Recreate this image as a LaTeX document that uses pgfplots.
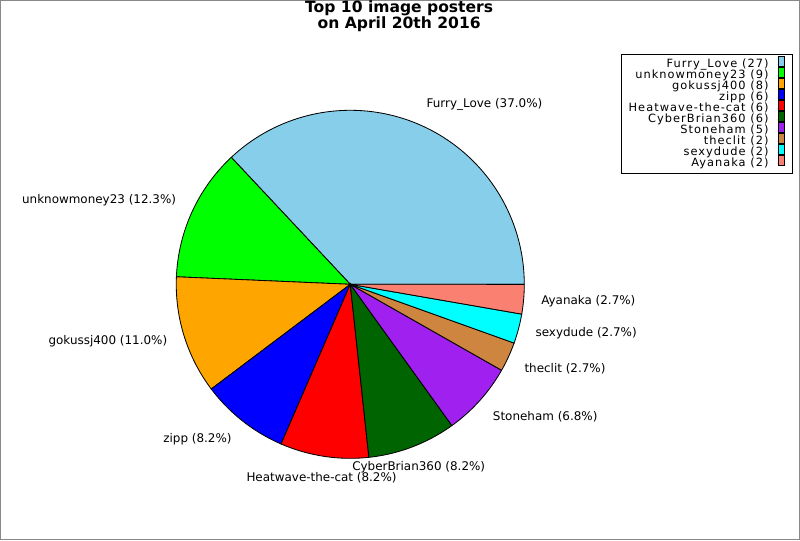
\documentclass[border=0pt]{standalone}
\usepackage{fontspec}
\setmainfont{DejaVu Sans}
\newfontfamily\legfont[LetterSpace=9]{DejaVu Sans}
\usepackage{pgfplots}
\pgfplotsset{compat=1.18}
\usepgfplotslibrary{polar}
\definecolor{cFurry}{HTML}{87CEEB}
\definecolor{cUnk}{HTML}{00FF00}
\definecolor{cGok}{HTML}{FFA500}
\definecolor{cZipp}{HTML}{0000FF}
\definecolor{cHeat}{HTML}{FF0000}
\definecolor{cCyber}{HTML}{006400}
\definecolor{cStone}{HTML}{A020F0}
\definecolor{cClit}{HTML}{CD853F}
\definecolor{cSexy}{HTML}{00FFFF}
\definecolor{cAya}{HTML}{FA8072}
\definecolor{frame}{HTML}{888888}
% total of all counts: 73
\newcommand{\slice}[4]{%
  \addplot[fill=#3, draw=black, line width=0.6pt, domain={#1*360/73}:{#2*360/73}, samples=80] {1} -- (axis cs:0,0) -- cycle;
  \addlegendentry{#4}%
}
\newcommand{\labfont}{\fontsize{8.6}{10.3}\selectfont}
\begin{document}
\begin{tikzpicture}
\useasboundingbox (0,0) rectangle (576pt,388.8pt);
\fill[white] (0,0) rectangle (576pt,388.8pt);
\draw[frame, line width=0.72pt] (0.36pt,0.36pt) rectangle (575.64pt,388.44pt);
\begin{polaraxis}[
  hide axis, scale only axis, width=250.6pt, height=250.6pt,
  xmin=0, xmax=360, ymin=0, ymax=1, clip=false,
  at={(252.2pt,184.1pt)}, anchor=center,
  legend plot pos=right, legend cell align=right,
  legend image code/.code={\path (0pt,0pt) rectangle (4.5pt,0pt);
    \draw[#1, draw=black, line width=0.6pt, overlay] (0pt,-0.9pt) rectangle (4.5pt,5.8pt);},
  legend style={at={(1.771,1.161)}, anchor=north east, draw=black, line width=0.72pt, fill=white,
    inner xsep=5.4pt, inner ysep=3.2pt, row sep=0pt, column sep=6.5pt,
    font=\legfont\fontsize{8.2}{8.2}\selectfont,
    nodes={inner sep=0pt, text height=6pt, text depth=1.92pt}},
]
% cumulative counts: 0 27 36 44 50 56 62 67 69 71 73
\slice{0}{27}{cFurry}{Furry\_Love (27)}
\slice{27}{36}{cUnk}{unknowmoney23 (9)}
\slice{36}{44}{cGok}{gokussj400 (8)}
\slice{44}{50}{cZipp}{zipp (6)}
\slice{50}{56}{cHeat}{Heatwave-the-cat (6)}
\slice{56}{62}{cCyber}{CyberBrian360 (6)}
\slice{62}{67}{cStone}{Stoneham (5)}
\slice{67}{69}{cClit}{theclit (2)}
\slice{69}{71}{cSexy}{sexydude (2)}
\slice{71}{73}{cAya}{Ayanaka (2)}
\node[anchor=west, font=\labfont, inner sep=0pt, yshift=3pt] at (axis cs:{13.5*360/73},1.1) {Furry\_Love (37.0\%)};
\node[anchor=east, font=\labfont, inner sep=0pt, yshift=3pt] at (axis cs:{31.5*360/73},1.1) {unknowmoney23 (12.3\%)};
\node[anchor=east, font=\labfont, inner sep=0pt] at (axis cs:{40*360/73},1.1) {gokussj400 (11.0\%)};
\node[anchor=east, font=\labfont, inner sep=0pt, yshift=-3.6pt] at (axis cs:{47*360/73},1.1) {zipp (8.2\%)};
\node[anchor=center, font=\labfont, inner sep=0pt, yshift=-3.3pt] at (axis cs:{53*360/73},1.1) {Heatwave-the-cat (8.2\%)};
\node[anchor=center, font=\labfont, inner sep=0pt, yshift=-3pt] at (axis cs:{59*360/73},1.1) {CyberBrian360 (8.2\%)};
\node[anchor=west, font=\labfont, inner sep=0pt, yshift=-3.4pt] at (axis cs:{64.5*360/73},1.1) {Stoneham (6.8\%)};
\node[anchor=west, font=\labfont, inner sep=0pt, yshift=-3.2pt] at (axis cs:{68*360/73},1.1) {theclit (2.7\%)};
\node[anchor=west, font=\labfont, inner sep=0pt] at (axis cs:{70*360/73},1.1) {sexydude (2.7\%)};
\node[anchor=west, font=\labfont, inner sep=0pt] at (axis cs:{72*360/73},1.1) {Ayanaka (2.7\%)};
\end{polaraxis}
\node[anchor=base, align=center, font=\bfseries\fontsize{11.2}{9.4}\selectfont, inner sep=0pt] at (287.4pt,368.1pt) {Top 10 image posters\\on April 20th 2016};
\end{tikzpicture}
\end{document}
